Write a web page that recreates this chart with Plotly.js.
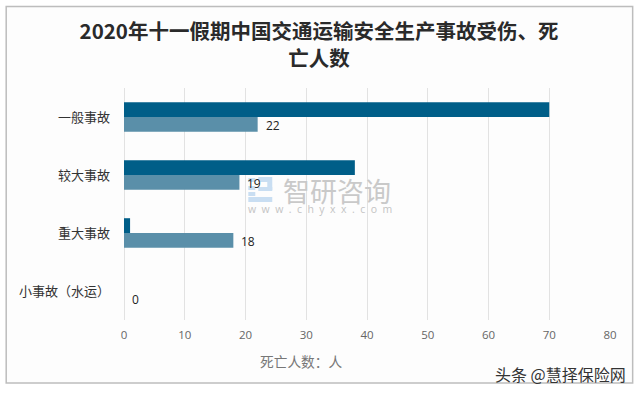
<!DOCTYPE html>
<html><head><meta charset="utf-8">
<script src="https://cdn.plot.ly/plotly-3.0.1.min.js"></script>
<style>html,body{margin:0;padding:0;background:#fff}#c{width:640px;height:393px}</style>
</head><body><div id="c"></div>
<script>
const categories = ['一般事故','较大事故','重大事故','小事故（水运）'];
const deaths = [70,38,1,0];
const injuries = [22,19,18,0];
const xTicks = [0,10,20,30,40,50,60,70,80];
const titleText = '2020年十一假期中国交通运输安全生产事故受伤、死<br>亡人数';
const axisTitle = '死亡人数：人';
const brand = '智研咨询';
const site = 'w\u00a0\u00a0w\u00a0\u00a0w\u00a0\u00a0.\u00a0\u00a0c\u00a0\u00a0h\u00a0\u00a0y\u00a0\u00a0x\u00a0\u00a0x\u00a0\u00a0.\u00a0\u00a0c\u00a0\u00a0o\u00a0\u00a0m';
const credit = '头条 @慧择保险网';
const cjk = '"Noto Sans CJK SC","Noto Sans",sans-serif';

const L = 123.5, T = 88, W = 486.8, H = 232;
const px = v => (v - L) / W;
const py = v => 1 - (v - T) / H;
const logoRect = (x0, x1, y0, y1) => ({type:'rect',xref:'paper',yref:'paper',layer:'below',
  x0:px(x0),x1:px(x1),y0:py(y1),y1:py(y0),line:{width:0},fillcolor:'#c9def2'});

const traces = [
  {type:'bar',orientation:'h',y:categories,x:deaths,marker:{color:'#005e88',line:{width:0}},hoverinfo:'skip'},
  {type:'bar',orientation:'h',y:categories,x:injuries,marker:{color:'#5a8fa9',line:{width:0}},hoverinfo:'skip'}
];
const labels = categories.map((c,i)=>({
  xref:'x',yref:'y',x:injuries[i],y:c,text:String(injuries[i]),showarrow:false,
  xanchor:'left',xshift:6,yshift:-8,font:{family:'"Open Sans",sans-serif',size:12,color:'#222'}
}));
const layout = {
  width:640,height:393,paper_bgcolor:'#ffffff',plot_bgcolor:'rgba(0,0,0,0)',showlegend:false,
  margin:{l:L,r:640-L-W,t:T,b:393-T-H},
  barmode:'group',bargap:0.49,bargroupgap:0,
  font:{family:cjk},
  title:{text:titleText,x:319/640,xref:'container',xanchor:'center',y:1-39/393,yref:'container',yanchor:'middle',
    font:{family:cjk,size:20.5,color:'#2a2a2a',weight:700}},
  xaxis:{range:[0,80],tickvals:xTicks,showgrid:true,gridcolor:'#e2e2e2',gridwidth:1,zeroline:true,zerolinecolor:'#e2e2e2',zerolinewidth:1,
    showline:false,ticks:'',ticklabelstandoff:6,tickfont:{family:'"Open Sans",sans-serif',size:11.5,color:'#666'}},
  yaxis:{type:'category',autorange:'reversed',categoryorder:'array',categoryarray:categories,showgrid:false,showline:false,zeroline:false,ticks:'',
    ticklabelstandoff:13,tickfont:{family:cjk,size:13,color:'#333'}},
  shapes:[
    {type:'rect',xref:'paper',yref:'paper',layer:'below',x0:px(5.5),x1:px(633),y0:py(383),y1:py(6.5),
     line:{color:'#bdbdbd',width:1.5},fillcolor:'#fdfdfd'},
    logoRect(258,272,177,182),
    logoRect(267,272,182,190),
    logoRect(258,272,187,191),
    logoRect(248,272,197,202),
    logoRect(248,255,178,182),
    logoRect(248,255,186,190),
    logoRect(248,255,192,196)
  ],
  annotations:labels.concat([
    {xref:'paper',yref:'paper',x:px(301),y:py(361),text:axisTitle,showarrow:false,xanchor:'center',yanchor:'middle',font:{family:cjk,size:13.7,color:'#777'}},
    {xref:'paper',yref:'paper',x:px(336.5),y:py(190),text:brand,showarrow:false,xanchor:'center',yanchor:'middle',font:{family:cjk,size:27,color:'#c9c9c9'}},
    {xref:'paper',yref:'paper',x:px(320),y:py(209),text:site,showarrow:false,xanchor:'center',yanchor:'middle',font:{family:'"Open Sans",sans-serif',size:10.5,color:'#c4c4c4'}},
    {xref:'paper',yref:'paper',x:px(628),y:py(374),text:credit,showarrow:false,xanchor:'right',yanchor:'middle',font:{family:cjk,size:16,color:'#333'}}
  ])
};
Plotly.newPlot('c',traces,layout,{displayModeBar:false,staticPlot:true});
</script></body></html>
